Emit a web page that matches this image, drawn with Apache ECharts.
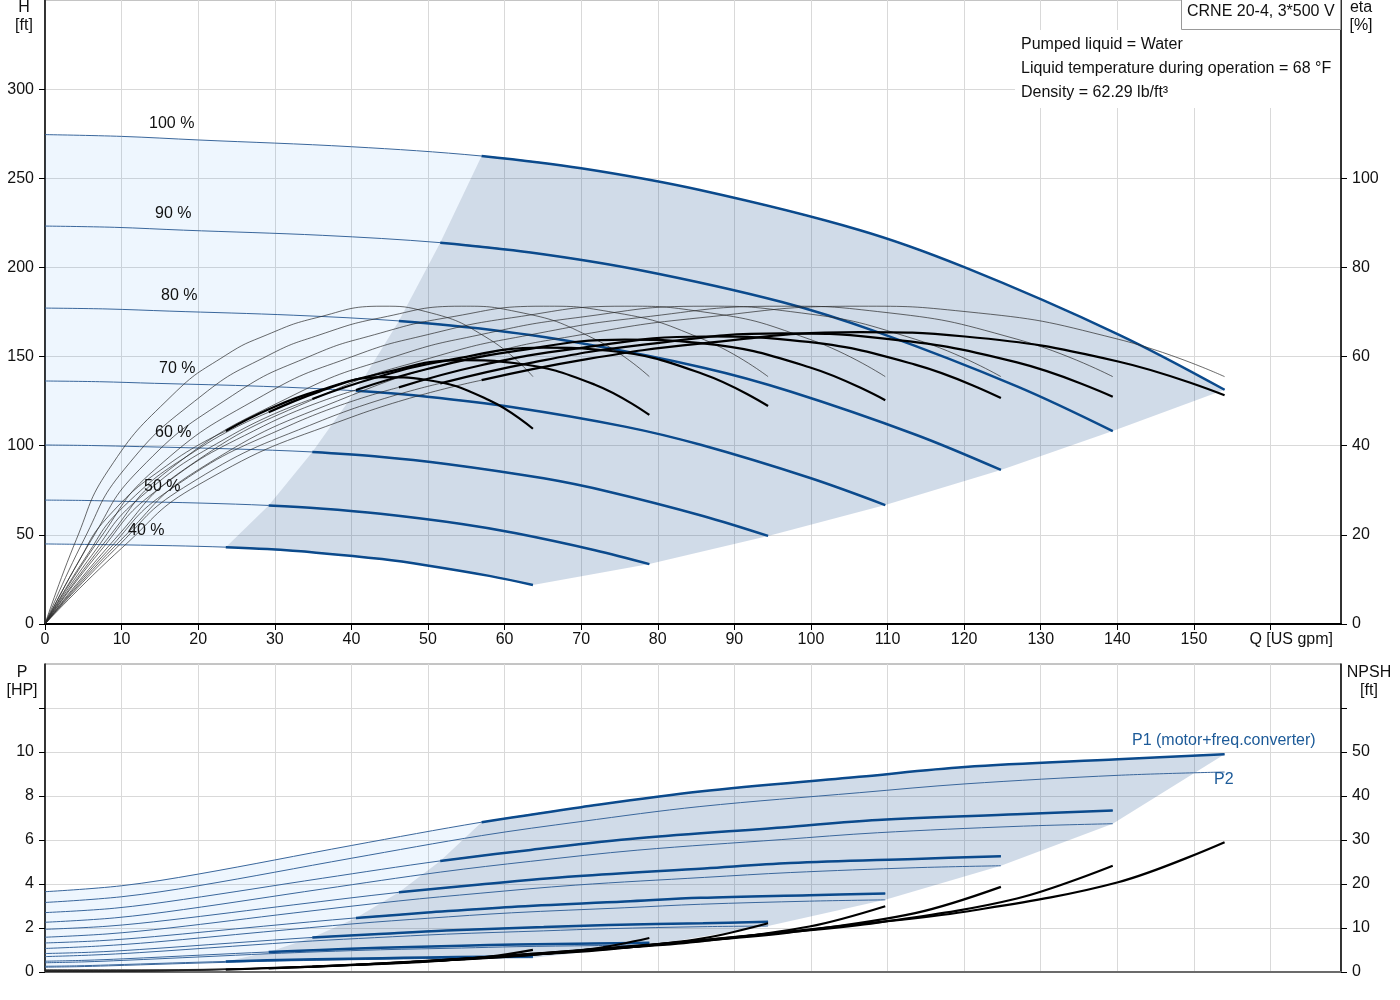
<!DOCTYPE html>
<html>
<head>
<meta charset="utf-8">
<script src="https://cdn.jsdelivr.net/npm/echarts@6/dist/echarts.min.js"></script>
<style>html,body{margin:0;padding:0;background:#fff}#c{width:1400px;height:1000px}</style>
</head>
<body>
<div id="c"></div>
<script>
// ---------- data ----------
const speedLabels = ['40 %', '50 %', '60 %', '70 %', '80 %', '90 %', '100 %'];

// flow points of each speed curve [US gpm], 40 % ... 100 %
const flowQ = [
  [0, 4.1, 8.3, 16.6, 23.6, 29.0, 35.4, 44.0, 49.7, 58.0, 63.7],
  [0, 5.1, 10.3, 20.5, 29.2, 35.9, 43.8, 54.4, 61.5, 71.8, 78.9],
  [0, 6.1, 12.3, 24.5, 34.9, 43.0, 52.4, 65.1, 73.6, 85.9, 94.4],
  [0, 7.1, 14.3, 28.5, 40.6, 49.9, 60.9, 75.7, 85.6, 99.8, 109.7],
  [0, 8.1, 16.2, 32.4, 46.2, 56.8, 69.3, 86.1, 97.3, 113.6, 124.8],
  [0, 9.1, 18.1, 36.2, 51.6, 63.4, 77.4, 96.2, 108.7, 126.9, 139.4],
  [0, 10, 20, 40, 57, 70, 85.5, 106.3, 120.1, 140.1, 154]
];

// head H [ft]
const headH = [
  [44.9, 44.7, 44.5, 43.9, 43.1, 42.0, 40.0, 36.4, 33.0, 27.0, 21.9],
  [69.5, 69.3, 68.8, 67.8, 66.5, 64.8, 61.8, 56.1, 50.9, 41.4, 33.6],
  [100.4, 100.1, 99.5, 98.2, 96.5, 94.1, 89.8, 81.7, 74.2, 60.6, 49.4],
  [136.3, 135.9, 135.0, 133.3, 130.8, 127.5, 121.7, 110.7, 100.5, 82.0, 66.7],
  [177.2, 176.7, 175.5, 173.2, 170.0, 165.7, 158.0, 143.6, 130.4, 106.3, 86.4],
  [223.2, 222.5, 220.9, 218.0, 213.9, 208.4, 198.7, 180.6, 163.7, 133.3, 108.2],
  [274.5, 273.5, 271.5, 267.7, 262.5, 255.6, 243.4, 221.0, 200.0, 162.5, 131.4]
];

// pump efficiency [%] (same shape at every speed)
const etaPump = [0, 19.0, 34.6, 51.3, 60.3, 64.9, 68.7, 71.3, 70.1, 63.9, 55.5];

// total efficiency [%]
const etaTotal = [
  [0, 13.1, 24.2, 36.4, 43.3, 48.0, 52.2, 55.4, 54.8, 50.2, 43.8],
  [0, 14.4, 26.4, 39.8, 47.5, 52.2, 56.2, 59.2, 58.5, 53.7, 46.9],
  [0, 15.4, 28.2, 42.5, 50.5, 55.2, 59.1, 62.0, 61.3, 56.1, 48.9],
  [0, 16.1, 29.6, 44.4, 52.5, 57.2, 61.1, 63.8, 63.0, 57.6, 50.2],
  [0, 16.3, 30.0, 44.9, 53.1, 58.0, 61.8, 64.5, 63.7, 58.2, 50.7],
  [0, 16.7, 30.6, 45.7, 54.0, 58.6, 62.5, 65.2, 64.2, 58.7, 51.0],
  [0, 17.0, 31.2, 46.4, 54.7, 59.2, 62.9, 65.5, 64.5, 58.9, 51.3]
];

// P1 (motor + freq. converter) [HP]
const powerP1 = [
  [0.26, 0.28, 0.32, 0.41, 0.48, 0.53, 0.58, 0.63, 0.66, 0.69, 0.70],
  [0.49, 0.53, 0.60, 0.77, 0.91, 1.00, 1.10, 1.19, 1.25, 1.30, 1.33],
  [0.84, 0.90, 1.02, 1.32, 1.57, 1.72, 1.89, 2.04, 2.14, 2.22, 2.28],
  [1.32, 1.42, 1.61, 2.08, 2.46, 2.70, 2.96, 3.20, 3.37, 3.49, 3.57],
  [1.94, 2.08, 2.36, 3.05, 3.62, 3.98, 4.35, 4.71, 4.95, 5.14, 5.26],
  [2.70, 2.90, 3.30, 4.26, 5.05, 5.55, 6.08, 6.57, 6.91, 7.17, 7.34],
  [3.65, 3.92, 4.45, 5.75, 6.81, 7.49, 8.20, 8.87, 9.32, 9.67, 9.90]
];

// P2 [HP]
const powerP2 = [
  [0.22, 0.24, 0.28, 0.37, 0.44, 0.49, 0.53, 0.58, 0.61, 0.64, 0.65],
  [0.42, 0.46, 0.53, 0.69, 0.83, 0.92, 1.01, 1.09, 1.15, 1.20, 1.22],
  [0.70, 0.77, 0.88, 1.17, 1.41, 1.56, 1.72, 1.87, 1.97, 2.06, 2.09],
  [1.07, 1.18, 1.36, 1.82, 2.20, 2.44, 2.69, 2.92, 3.08, 3.22, 3.28],
  [1.58, 1.73, 2.00, 2.68, 3.23, 3.58, 3.95, 4.30, 4.52, 4.74, 4.83],
  [2.26, 2.46, 2.84, 3.77, 4.54, 5.03, 5.54, 6.02, 6.33, 6.62, 6.74],
  [3.16, 3.42, 3.92, 5.17, 6.20, 6.84, 7.52, 8.15, 8.55, 8.94, 9.09]
];

// NPSH [ft]
const npshFt = [
  [0.09, 0.09, 0.10, 0.27, 0.55, 0.86, 1.23, 1.86, 2.34, 3.49, 5.04],
  [0.13, 0.13, 0.16, 0.42, 0.84, 1.31, 1.89, 2.86, 3.59, 5.34, 7.73],
  [0.19, 0.19, 0.23, 0.60, 1.20, 1.88, 2.71, 4.10, 5.15, 7.67, 11.09],
  [0.25, 0.25, 0.30, 0.81, 1.62, 2.54, 3.65, 5.53, 6.95, 10.34, 14.96],
  [0.33, 0.33, 0.39, 1.05, 2.10, 3.28, 4.72, 7.15, 8.99, 13.38, 19.35],
  [0.41, 0.41, 0.49, 1.31, 2.62, 4.10, 5.90, 8.93, 11.22, 16.71, 24.16],
  [0.50, 0.50, 0.60, 1.60, 3.20, 5.00, 7.20, 10.90, 13.70, 20.40, 29.50]
];

// tick labels
const xTickValues = [0, 10, 20, 30, 40, 50, 60, 70, 80, 90, 100, 110, 120, 130, 140, 150];
const xTickMarks = [0, 10, 20, 30, 40, 50, 60, 70, 80, 90, 100, 110, 120, 130, 140, 150, 160];
const hTickValues = [0, 50, 100, 150, 200, 250, 300];
const etaTickValues = [0, 20, 40, 60, 80, 100];
const pTickValues = [0, 2, 4, 6, 8, 10];
const pTickMarks = [0, 2, 4, 6, 8, 10, 12];
const npshTickValues = [0, 10, 20, 30, 40, 50];
const npshTickMarks = [0, 10, 20, 30, 40, 50, 60];

// ---------- helpers ----------
const MIN_FLOW = 4, LAST = 10, TOP = 6, LOW = 0;
const FONT = '"Liberation Sans", Arial, sans-serif';
const BLUE = '#0b4a8c', BLUE_THIN = '#3a679c';

function seg(q, v, a, b) { const r = []; for (let i = a; i <= b; i++) r.push([q[i], v[i]]); return r; }

function buildLight(upper, lower) {
  const pts = seg(flowQ[TOP], upper[TOP], 0, MIN_FLOW);
  for (let s = TOP - 1; s >= LOW; s--) pts.push([flowQ[s][MIN_FLOW], upper[s][MIN_FLOW]]);
  for (let i = MIN_FLOW; i >= 0; i--) pts.push([flowQ[LOW][i], lower[LOW][i]]);
  return pts;
}
function buildDark(upper, lower) {
  const pts = seg(flowQ[TOP], upper[TOP], MIN_FLOW, LAST);
  for (let s = TOP - 1; s >= LOW; s--) pts.push([flowQ[s][LAST], lower[s][LAST]]);
  for (let i = LAST - 1; i >= MIN_FLOW; i--) pts.push([flowQ[LOW][i], lower[LOW][i]]);
  for (let s = LOW; s < TOP; s++) pts.push([flowQ[s][MIN_FLOW], upper[s][MIN_FLOW]]);
  return pts;
}
function polySeries(points, fill, xi, yi) {
  return {
    type: 'custom', xAxisIndex: xi, yAxisIndex: yi, silent: true, z: 1, clip: true,
    data: [[points[0][0], points[0][1]]],
    renderItem: function (params, api) {
      return { type: 'polygon', shape: { points: points.map(p => api.coord(p)), smooth: 0 }, style: { fill: fill, stroke: null } };
    }
  };
}
function line(data, xi, yi, color, width, z, smooth) {
  return {
    type: 'line', xAxisIndex: xi, yAxisIndex: yi, data: data, smooth: smooth || 0.35,
    showSymbol: false, symbol: 'none', silent: true, z: z,
    lineStyle: { color: color, width: width }
  };
}

const series = [];
series.push(polySeries(buildLight(headH, headH), 'rgba(0,120,235,0.065)', 0, 0));
series.push(polySeries(buildDark(headH, headH), 'rgba(0,62,130,0.185)', 0, 0));
series.push(polySeries(buildLight(powerP1, powerP2), 'rgba(0,120,235,0.065)', 1, 2));
series.push(polySeries(buildDark(powerP1, powerP2), 'rgba(0,62,130,0.185)', 1, 2));

for (let s = 0; s < speedLabels.length; s++) {
  const q = flowQ[s];
  // head
  series.push(line(seg(q, headH[s], 0, LAST), 0, 0, BLUE_THIN, 1, 3));
  series.push(line(seg(q, headH[s], MIN_FLOW, LAST), 0, 0, BLUE, 2.5, 4));
  // efficiencies
  series.push(line(seg(q, etaPump, 0, LAST), 0, 1, '#2a2a2a', 0.7, 5, 0.5));
  series.push(line(seg(q, etaTotal[s], 0, MIN_FLOW), 0, 1, '#2a2a2a', 0.7, 5, 0.5));
  series.push(line(seg(q, etaTotal[s], MIN_FLOW, LAST), 0, 1, '#000', 2.2, 6, 0.45));
  // power
  series.push(line(seg(q, powerP2[s], 0, LAST), 1, 2, BLUE_THIN, 1, 3));
  series.push(line(seg(q, powerP1[s], 0, LAST), 1, 2, BLUE_THIN, 1, 3));
  series.push(line(seg(q, powerP1[s], MIN_FLOW, LAST), 1, 2, BLUE, 2.5, 4));
  // NPSH
  series.push(line(seg(q, npshFt[s], 0, MIN_FLOW), 1, 3, '#222', 0.8, 5));
  series.push(line(seg(q, npshFt[s], MIN_FLOW, LAST), 1, 3, '#000', 2.2, 6));
}

function txt(x, y, s, align, color) {
  return { type: 'text', x: x, y: y, z: 100, silent: true,
    style: { text: s, fill: color || '#111', font: '16px ' + FONT, align: align || 'left', verticalAlign: 'middle',
             textAlign: align || 'left', textVerticalAlign: 'middle' } };
}

// speed label positions (pixels, layout only)
const speedLabelPos = [[128, 531], [144, 487], [155, 433], [159, 369], [161, 296], [155, 214], [149, 124]];
const graphics = [];
speedLabels.forEach((t, i) => graphics.push(txt(speedLabelPos[i][0], speedLabelPos[i][1], t)));
graphics.push({ type: 'rect', z: 90, silent: true, shape: { x: 1015, y: 30, width: 325, height: 78 }, style: { fill: '#fff' } });
graphics.push(txt(1021, 45, 'Pumped liquid = Water'));
graphics.push(txt(1021, 69, 'Liquid temperature during operation = 68 °F'));
graphics.push(txt(1021, 93, 'Density = 62.29 lb/ft³'));
graphics.push({ type: 'rect', z: 90, silent: true, shape: { x: 1181.5, y: -1, width: 159, height: 30.5 }, style: { fill: '#fff', stroke: '#999', lineWidth: 1 } });
graphics.push(txt(1187, 12, 'CRNE 20-4, 3*500 V'));
graphics.push(txt(24, 8, 'H', 'center'));
graphics.push(txt(24, 26, '[ft]', 'center'));
graphics.push(txt(1361, 8, 'eta', 'center'));
graphics.push(txt(1361, 26, '[%]', 'center'));
graphics.push(txt(1333, 640, 'Q [US gpm]', 'right'));
graphics.push(txt(22, 673, 'P', 'center'));
graphics.push(txt(22, 691, '[HP]', 'center'));
graphics.push(txt(1369, 673, 'NPSH', 'center'));
graphics.push(txt(1369, 691, '[ft]', 'center'));
graphics.push(txt(1132, 741, 'P1 (motor+freq.converter)', 'left', '#1c5a98'));
graphics.push(txt(1214, 780, 'P2', 'left', '#1c5a98'));

const splitStyle = { show: true, lineStyle: { color: '#d9d9d9', width: 1 } };
const labelBase = { fontSize: 16, color: '#111', fontFamily: FONT };

const option = {
  animation: false,
  backgroundColor: '#fff',
  grid: [
    { left: 45, top: 0, width: 1296, height: 624, show: true, borderColor: '#8a8a8a', borderWidth: 1, backgroundColor: 'transparent', containLabel: false },
    { left: 45, top: 664, width: 1296, height: 308, show: true, borderColor: '#8a8a8a', borderWidth: 1, backgroundColor: 'transparent', containLabel: false }
  ],
  xAxis: [
    { gridIndex: 0, type: 'value', min: 0, max: 169.2, interval: 10,
      axisLine: { show: true, onZero: false, lineStyle: { color: '#000', width: 2 } },
      axisTick: { show: true, length: 6, customValues: xTickMarks, lineStyle: { color: '#000' } },
      axisLabel: Object.assign({ show: true, margin: 8, customValues: xTickValues, formatter: v => (v <= 150 ? String(v) : '') }, labelBase),
      splitLine: splitStyle },
    { gridIndex: 1, type: 'value', min: 0, max: 169.2, interval: 10,
      axisLine: { show: true, onZero: false, lineStyle: { color: '#6b6b6b', width: 2 } },
      axisTick: { show: false }, axisLabel: { show: false },
      splitLine: splitStyle }
  ],
  yAxis: [
    { gridIndex: 0, type: 'value', position: 'left', min: 0, max: 350, interval: 50,
      axisLine: { show: true, onZero: false, lineStyle: { color: '#000', width: 1.5 } },
      axisTick: { show: true, length: 6, customValues: hTickValues, lineStyle: { color: '#000' } },
      axisLabel: Object.assign({ margin: 11, customValues: hTickValues, formatter: v => (v <= 300 ? String(v) : '') }, labelBase),
      splitLine: splitStyle },
    { gridIndex: 0, type: 'value', position: 'right', min: 0, max: 140, interval: 20,
      axisLine: { show: true, onZero: false, lineStyle: { color: '#000', width: 1.5 } },
      axisTick: { show: true, length: 6, customValues: etaTickValues, lineStyle: { color: '#000' } },
      axisLabel: Object.assign({ margin: 11, customValues: etaTickValues, formatter: v => (v <= 100 ? String(v) : '') }, labelBase),
      splitLine: { show: false } },
    { gridIndex: 1, type: 'value', position: 'left', min: 0, max: 14, interval: 2,
      axisLine: { show: true, onZero: false, lineStyle: { color: '#000', width: 1.5 } },
      axisTick: { show: true, length: 6, customValues: pTickMarks, lineStyle: { color: '#000' } },
      axisLabel: Object.assign({ margin: 11, customValues: pTickValues, formatter: v => (v <= 10 ? String(v) : '') }, labelBase),
      splitLine: splitStyle },
    { gridIndex: 1, type: 'value', position: 'right', min: 0, max: 70, interval: 10,
      axisLine: { show: true, onZero: false, lineStyle: { color: '#000', width: 1.5 } },
      axisTick: { show: true, length: 6, customValues: npshTickMarks, lineStyle: { color: '#000' } },
      axisLabel: Object.assign({ margin: 11, customValues: npshTickValues, formatter: v => (v <= 50 ? String(v) : '') }, labelBase),
      splitLine: { show: false } }
  ],
  series: series,
  graphic: { elements: graphics }
};

const chart = echarts.init(document.getElementById('c'), null, { renderer: 'canvas', width: 1400, height: 1000 });
chart.setOption(option);
</script>
</body>
</html>
